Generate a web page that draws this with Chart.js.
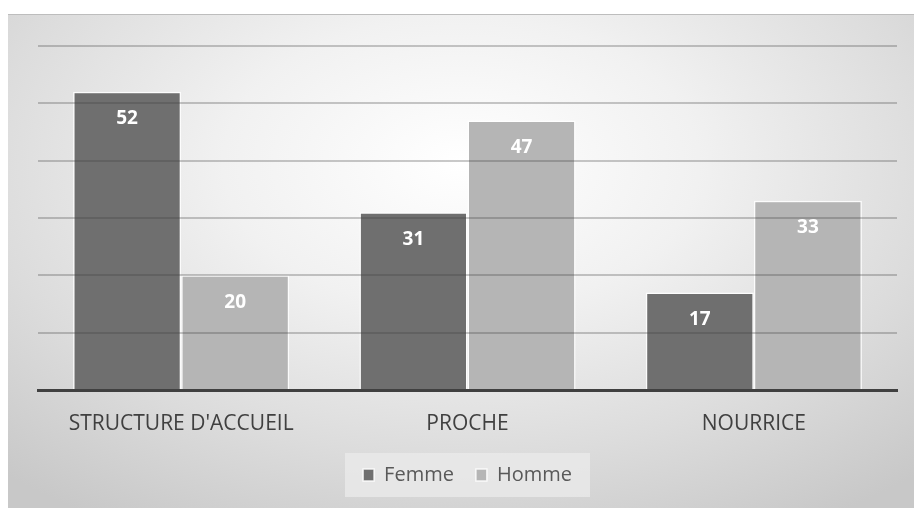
<!DOCTYPE html>
<html>
<head>
<meta charset="utf-8">
<script src="https://cdn.jsdelivr.net/npm/chart.js@4"></script>
<style>
  html, body { margin: 0; padding: 0; background: #ffffff; }
  #frame {
    position: absolute; left: 8px; top: 14px; width: 906px; height: 494px;
    background: radial-gradient(ellipse 75% 85% at 50% 30%, #ffffff 0%, #f1f1f1 35%, #dcdcdc 70%, #c8c8c8 100%);
    border-top: 1px solid #bdbdbd;
  }
  canvas { display: block; }
</style>
</head>
<body>
<div id="frame"><canvas id="chart" width="906" height="494"></canvas></div>
<script>
const categories = ["STRUCTURE D'ACCUEIL", 'PROCHE', 'NOURRICE'];
const femme = [52, 31, 17];
const homme = [20, 47, 33];
const seriesNames = ['Femme', 'Homme'];
const seriesColors = ['#6f6f6f', '#b5b5b5'];

// white value labels near the top of each bar
const valueLabels = {
  id: 'valueLabels',
  afterDraw(chart) {
    const ctx = chart.ctx;
    ctx.save();
    ctx.fillStyle = '#ffffff';
    ctx.font = 'bold 19px "Open Sans", sans-serif';
    ctx.textAlign = 'center';
    ctx.textBaseline = 'middle';
    chart.data.datasets.forEach((ds, di) => {
      chart.getDatasetMeta(di).data.forEach((bar, i) => {
        ctx.fillText(ds.data[i], bar.x, bar.y + 27);
      });
    });
    ctx.restore();
  }
};

// light box behind the legend
const legendBox = {
  id: 'legendBox',
  beforeDraw(chart) {
    const lg = chart.legend;
    if (!lg || !lg.legendHitBoxes || !lg.legendHitBoxes.length) return;
    const hb = lg.legendHitBoxes[0];
    const cy = hb.top + hb.height / 2;
    const cx = lg.left + lg.width / 2;
    const w = 245, h = 44;
    const ctx = chart.ctx;
    ctx.save();
    ctx.fillStyle = 'rgba(235,235,235,0.75)';
    ctx.fillRect(cx - w / 2, cy - h / 2, w, h);
    ctx.restore();
  }
};

new Chart(document.getElementById('chart').getContext('2d'), {
  type: 'bar',
  data: {
    labels: categories,
    datasets: [
      { label: seriesNames[0], data: femme, backgroundColor: seriesColors[0] },
      { label: seriesNames[1], data: homme, backgroundColor: seriesColors[1] }
    ]
  },
  options: {
    responsive: false,
    animation: false,
    layout: { padding: { left: 30, right: 17, top: 31, bottom: 14 } },
    datasets: {
      bar: {
        categoryPercentage: 0.755,
        barPercentage: 1.0,
        borderColor: 'rgba(255,255,255,0.85)',
        borderWidth: 1.5,
        borderSkipped: 'start'
      }
    },
    plugins: {
      legend: {
        position: 'bottom',
        labels: {
          boxWidth: 11,
          boxHeight: 12,
          padding: 22,
          color: '#595959',
          font: { family: '"Open Sans", sans-serif', size: 20 }
        }
      },
      tooltip: { enabled: false }
    },
    scales: {
      x: {
        grid: { display: false, drawTicks: false },
        border: { color: '#404040', width: 3 },
        ticks: {
          color: '#404040',
          padding: 21,
          font: { family: '"Open Sans", sans-serif', size: 21 }
        },
        afterFit(scale) { scale.height = 53; }
      },
      y: {
        min: 0,
        max: 60,
        ticks: { display: false, stepSize: 10 },
        border: { display: false },
        grid: {
          z: 1,
          lineWidth: 2,
          drawTicks: false,
          color: ctx => ctx.tick && ctx.tick.value === 0 ? 'rgba(0,0,0,0)' : 'rgba(60,60,60,0.28)'
        },
        afterFit(scale) { scale.width = 0; }
      }
    }
  },
  plugins: [legendBox, valueLabels]
});
</script>
</body>
</html>
